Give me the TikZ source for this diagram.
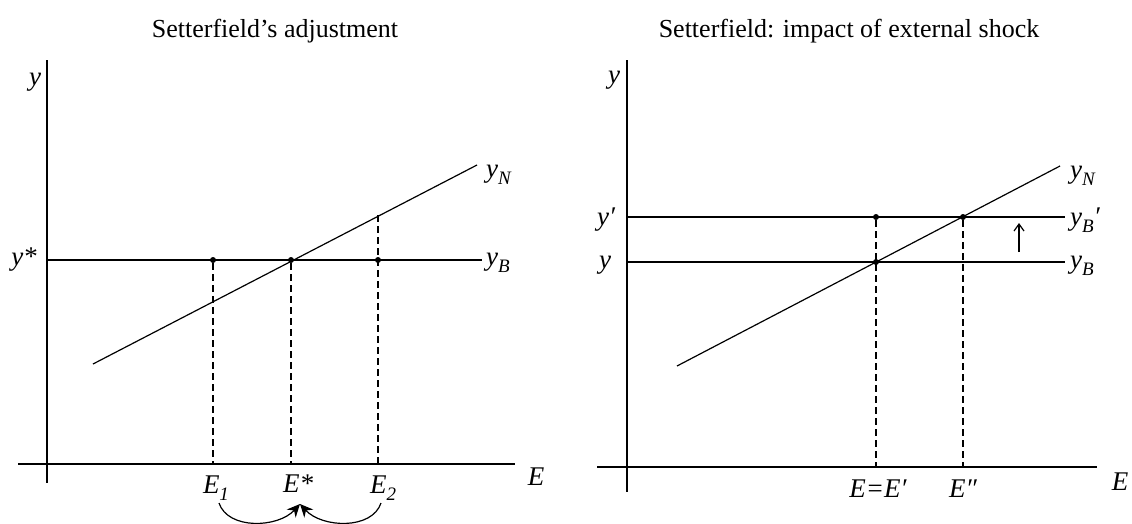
\documentclass[tikz,border=0pt]{standalone}
\usepackage{fontspec}
\setmainfont{Liberation Serif}
\usetikzlibrary{arrows.meta}
\newcommand\lbl{\fontsize{27}{32}\selectfont\itshape}
\newcommand\sbs[1]{\raisebox{-0.28em}{\fontsize{19}{22}\selectfont\itshape #1}}
\tikzset{
  axis/.style={line width=1.3pt},
  curve/.style={line width=1.2pt},
  guide/.style={line width=1.1pt, dash pattern=on 7pt off 4pt},
  dot/.style={circle, fill=black, inner sep=0pt, minimum size=6pt},
  lab/.style={inner sep=0pt, anchor=base, font=\lbl},
  ttl/.style={inner sep=0pt, anchor=base, font=\fontsize{26}{30}\selectfont},
  arr/.style={-{Stealth[length=13pt,width=12pt]}, line width=1.2pt}
}
\begin{document}
\begin{tikzpicture}[x=1pt,y=-1pt]
\useasboundingbox (0,0) rectangle (1132,523);
% ---------- left panel ----------
\node[ttl] (t1) at (275,37) {Setterfield’s adjustment};
\coordinate (ly0) at (47,60);
\coordinate (ly1) at (47,483);
\coordinate (lx0) at (18,464);
\coordinate (lx1) at (515,464);
\draw[axis] (ly0) -- (ly1);
\draw[axis] (lx0) -- (lx1);
\node[lab] (ly) at (35,85) {y};
\node[lab] (lE) at (536,485) {E};
\coordinate (lb0) at (47,260);
\coordinate (lb1) at (482,260);
\draw[curve] (lb0) -- (lb1);
\node[lab, anchor=base west] (lyB) at (486,265) {y\sbs{B}};
\coordinate (ln0) at (93,364);
\coordinate (ln1) at (477,165);
\draw[curve] (ln0) -- (ln1);
\node[lab, anchor=base west] (lyN) at (486,177) {y\sbs{N}};
\node[lab] (ystar) at (24,265) {y*};
\node[dot] (d1) at (213,260) {};
\node[dot] (d2) at (291,260) {};
\node[dot] (d3) at (378,260) {};
\coordinate (n3) at (378,215);
\coordinate (b1) at (213,464);
\coordinate (b2) at (291,464);
\coordinate (b3) at (378,464);
\draw[guide] (d1) -- (b1);
\draw[guide] (d2) -- (b2);
\draw[guide] (n3) -- (b3);
\node[lab] (E1) at (216,493) {E\sbs{1}};
\node[lab] (Es) at (298,492) {E*};
\node[lab] (E2) at (383,493) {E\sbs{2}};
\coordinate (a1) at (219,503);
\coordinate (a2) at (381,503);
\coordinate (am) at (300,504);
\draw[arr] (a1) .. controls (228,530) and (278,528) .. (am);
\draw[arr] (a2) .. controls (372,530) and (322,528) .. (am);
% ---------- right panel ----------
\node[ttl] (t2) at (849,37) {Setterfield: impact of external shock};
\coordinate (ry0) at (627,60);
\coordinate (ry1) at (627,492);
\coordinate (rx0) at (597,467);
\coordinate (rx1) at (1097,467);
\draw[axis] (ry0) -- (ry1);
\draw[axis] (rx0) -- (rx1);
\node[lab] (ry) at (614,83) {y};
\node[lab] (rE) at (1120,490) {E};
\coordinate (rb0) at (627,262);
\coordinate (rb1) at (1065,262);
\draw[curve] (rb0) -- (rb1);
\coordinate (rp0) at (627,217);
\coordinate (rp1) at (1065,217);
\draw[curve] (rp0) -- (rp1);
\coordinate (rn0) at (677,366);
\coordinate (rn1) at (1060,166);
\draw[curve] (rn0) -- (rn1);
\node[lab, anchor=base west] (ryN) at (1070,178) {y\sbs{N}};
\node[lab, anchor=base west] (ryBp) at (1070,225) {y\sbs{B}′};
\node[lab, anchor=base west] (ryB) at (1070,268) {y\sbs{B}};
\node[lab] (ryp) at (606,225) {y′};
\node[lab] (ryy) at (605,268) {y};
\node[dot] (r1) at (876,262) {};
\node[dot] (r2) at (876,217) {};
\node[dot] (r3) at (963,217) {};
\coordinate (rb1x) at (876,467);
\coordinate (rb3x) at (963,467);
\draw[guide] (r2) -- (rb1x);
\draw[guide] (r3) -- (rb3x);
\node[lab] (EE) at (878,497) {E=E′};
\node[lab] (Epp) at (963,497) {E″};
\coordinate (u0) at (1019,252);
\coordinate (u1) at (1019,223);
\draw[-{Straight Barb[length=7pt,width=10pt]}, line width=1.2pt] (u0) -- (u1);
\end{tikzpicture}
\end{document}
